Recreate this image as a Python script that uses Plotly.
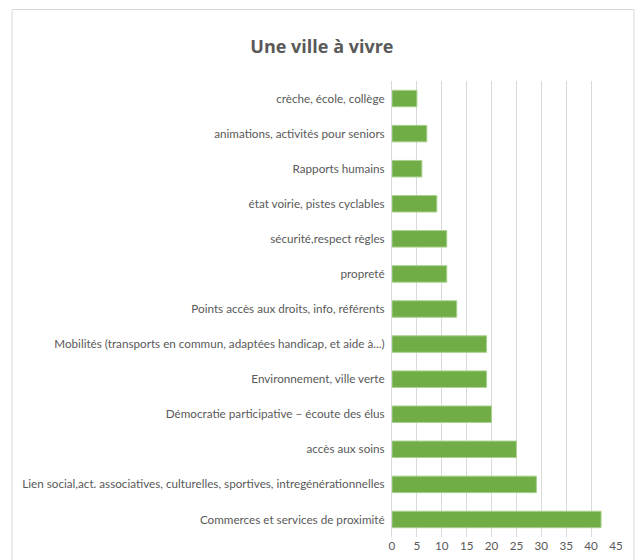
import plotly.graph_objects as go

categories = [
    "crèche, école, collège",
    "animations, activités pour seniors",
    "Rapports humains",
    "état voirie, pistes cyclables",
    "sécurité,respect règles",
    "propreté",
    "Points accès aux droits, info, référents",
    "Mobilités (transports en commun, adaptées handicap, et aide à...)",
    "Environnement, ville verte",
    "Démocratie participative – écoute des élus",
    "accès aux soins",
    "Lien social,act. associatives, culturelles, sportives, intregénérationnelles",
    "Commerces et services de proximité",
]
values = [5, 7, 6, 9, 11, 11, 13, 19, 19, 20, 25, 29, 42]
x_ticks = [0, 5, 10, 15, 20, 25, 30, 35, 40, 45]
title_text = "Une ville à vivre"

FONT = "Lato, Liberation Sans, Arial, sans-serif"

fig = go.Figure(
    go.Bar(
        x=values,
        y=categories,
        orientation="h",
        marker=dict(color="#70AD47", line=dict(color="#a9d18e", width=1)),
        width=0.47,
    )
)

L, R, T, B = 392, 24, 81, 23
W, H = 640, 560
pw = W - L - R
ph = H - T - B

fig.update_layout(
    width=W,
    height=H,
    margin=dict(l=L, r=R, t=T, b=B, autoexpand=False),
    paper_bgcolor="white",
    plot_bgcolor="white",
    showlegend=False,
    title=dict(
        text="<b>" + title_text + "</b>",
        x=0.503,
        xref="container",
        xanchor="center",
        y=1 - 47 / H,
        yanchor="middle",
        font=dict(family="Open Sans, Liberation Sans, sans-serif", size=18, color="#595959"),
    ),
    xaxis=dict(
        range=[0, 45],
        tickvals=x_ticks,
        showgrid=True,
        gridcolor="#d9d9d9",
        gridwidth=1,
        zeroline=False,
        showline=False,
        ticks="",
        tickfont=dict(family=FONT, size=11.7, color="#595959"),
        fixedrange=True,
        automargin=False,
    ),
    yaxis=dict(
        autorange="reversed",
        showgrid=False,
        zeroline=False,
        showline=True,
        linecolor="#d9d9d9",
        linewidth=1,
        ticks="",
        ticklabelstandoff=4,
        tickfont=dict(family=FONT, size=11.7, color="#595959"),
        automargin=False,
    ),
    shapes=[
        dict(
            type="rect",
            xref="paper",
            yref="paper",
            x0=(12 - L) / pw,
            x1=(634 - L) / pw,
            y0=(H - B - 570) / ph,
            y1=(H - B - 9.5) / ph,
            line=dict(color="#d9d9d9", width=1),
            fillcolor="rgba(0,0,0,0)",
            layer="below",
        )
    ],
)

fig.write_html("out.html")
